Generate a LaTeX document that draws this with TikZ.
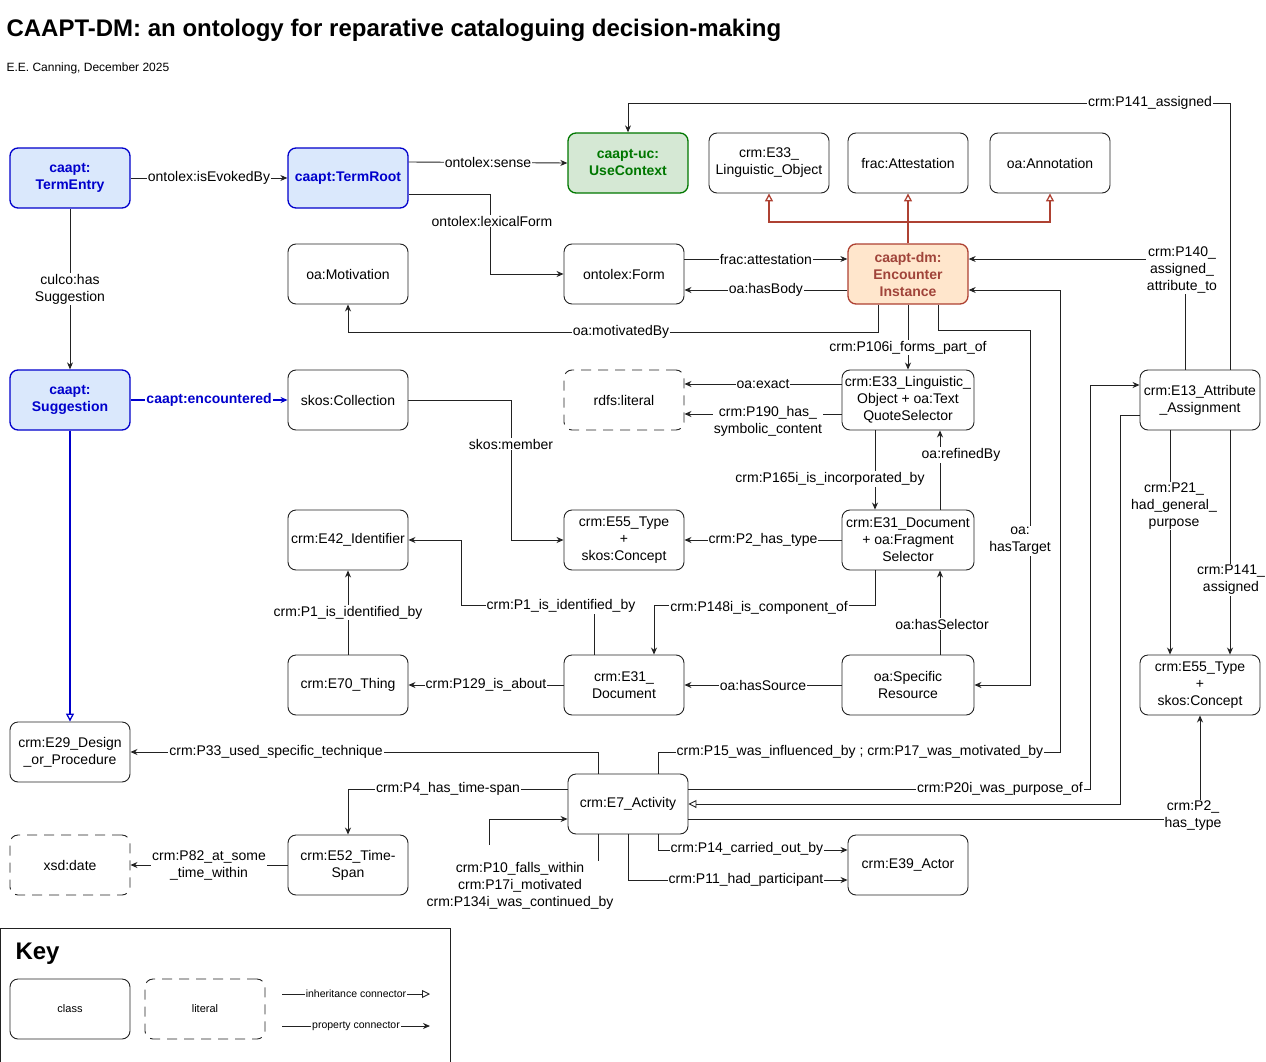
\documentclass[tikz,border=0pt]{standalone}
\usepackage{fontspec}
\setmainfont{Liberation Sans}
\usetikzlibrary{arrows.meta}
\definecolor{bfill}{HTML}{DAE8FC}\definecolor{bline}{HTML}{0000CC}
\definecolor{gfill}{HTML}{D5E8D4}\definecolor{gline}{HTML}{007700}
\definecolor{ofill}{HTML}{FFE6CC}\definecolor{oline}{HTML}{AE4132}\definecolor{otext}{HTML}{A0443A}
\definecolor{ink}{HTML}{222222}
\begin{document}
\begin{tikzpicture}[x=1pt,y=-1pt,
 every node/.style={font=\fontsize{14}{17}\selectfont},
 cls/.style={draw=ink,line width=0.9pt,rounded corners=8pt,minimum width=120pt,minimum height=60pt,align=center,inner sep=1pt},
 lit/.style={cls,dashed,dash pattern=on 10pt off 7pt},
 blu/.style={cls,fill=bfill,draw=bline,line width=1.3pt,text=bline,font=\fontsize{14}{17}\selectfont\bfseries},
 lbl/.style={fill=white,inner sep=1pt,align=center},
 con/.style={draw=ink,line width=0.9pt,-{Stealth[length=7pt,width=6pt]}},
 inh/.style={draw=ink,line width=0.9pt,-{Triangle[open,length=8pt,width=8pt]}}]
\useasboundingbox (0,0) rectangle (1266,1062);
\node[anchor=west,font=\fontsize{24}{28}\selectfont\bfseries] at (3,30) {CAAPT-DM: an ontology for reparative cataloguing decision-making};
\node[anchor=west,font=\fontsize{12}{14}\selectfont] at (3,68) {E.E. Canning, December 2025};
% nodes
\node[blu] (te) at (70,178) {caapt:\\TermEntry};
\node[blu] (tr) at (348,178) {caapt:TermRoot};
\node[cls,fill=gfill,draw=gline,line width=1.3pt,text=gline,font=\fontsize{14}{17}\selectfont\bfseries] (uc) at (628,163) {caapt-uc:\\UseContext};
\node[cls] (e33lo) at (769,163) {crm:E33\_\\Linguistic\_Object};
\node[cls] (fa) at (908,163) {frac:Attestation};
\node[cls] (oan) at (1050,163) {oa:Annotation};
\node[cls,fill=ofill,draw=oline,line width=1.3pt,text=otext,font=\fontsize{14}{17}\selectfont\bfseries] (ei) at (908,274) {caapt-dm:\\Encounter\\Instance};
\node[cls] (mot) at (348,274) {oa:Motivation};
\node[cls] (form) at (624,274) {ontolex:Form};
\node[blu] (sug) at (70,400) {caapt:\\Suggestion};
\node[cls] (coll) at (348,400) {skos:Collection};
\node[lit] (rl) at (624,400) {rdfs:literal};
\node[cls,minimum width=132pt] (tqs) at (908,400) {crm:E33\_Linguistic\_\\Object + oa:Text\\QuoteSelector};
\node[cls] (e13) at (1200,400) {crm:E13\_Attribute\\\_Assignment};
\node[cls] (e42) at (348,540) {crm:E42\_Identifier};
\node[cls] (e55) at (624,540) {crm:E55\_Type\\+\\skos:Concept};
\node[cls,minimum width=132pt] (frag) at (908,540) {crm:E31\_Document\\+ oa:Fragment\\Selector};
\node[cls] (e70) at (348,685) {crm:E70\_Thing};
\node[cls] (doc) at (624,685) {crm:E31\_\\Document};
\node[cls,minimum width=132pt] (sr) at (908,685) {oa:Specific\\Resource};
\node[cls] (e55r) at (1200,685) {crm:E55\_Type\\+\\skos:Concept};
\node[cls] (e29) at (70,752) {crm:E29\_Design\\\_or\_Procedure};
\node[cls] (e7) at (628,804) {crm:E7\_Activity};
\node[lit] (xsd) at (70,865) {xsd:date};
\node[cls] (e52) at (348,865) {crm:E52\_Time-\\Span};
\node[cls] (e39) at (908,865) {crm:E39\_Actor};
% connectors
\draw[con] (te) -- node[lbl]{ontolex:isEvokedBy} (tr);
\draw[con] ([yshift=16pt]tr.east) -- node[lbl]{ontolex:sense} (uc.west);
\draw[con] ([yshift=-16pt]tr.east) -| (490,274) -- (form.west);
\node[lbl] at (492,221) {ontolex:lexicalForm};
\draw[con] (te) -- node[lbl]{culco:has\\Suggestion} (sug);
\draw[draw=bline,line width=1.3pt,-{Stealth[length=7pt,width=6pt]}] (sug) -- node[lbl,text=bline,font=\fontsize{14}{17}\selectfont\bfseries]{caapt:encountered} (coll);
\draw[draw=bline,line width=1.3pt,-{Triangle[open,length=8pt,width=8pt]}] (sug) -- (e29);
\begin{scope}[draw=oline,line width=1.3pt]
\draw[-{Triangle[open,length=8pt,width=8pt]}] (ei.north) -- (fa.south);
\draw[-{Triangle[open,length=8pt,width=8pt]}] (908,222) -| (e33lo.south);
\draw[-{Triangle[open,length=8pt,width=8pt]}] (908,222) -| (oan.south);
\end{scope}
\draw[con] ([yshift=15pt]form.east) -- node[lbl]{frac:attestation} ([yshift=15pt]ei.west);
\draw[con] ([yshift=-16pt]ei.west) -- node[lbl]{oa:hasBody} ([yshift=-16pt]form.east);
\draw[con] ([xshift=-30pt]ei.south) |- (348,332) -- (mot.south);
\node[lbl] at (621,332) {oa:motivatedBy};
\draw[con] (ei.south) -- node[lbl,pos=0.66]{crm:P106i\_forms\_part\_of} (tqs.north);
\draw[con] ([xshift=30pt]ei.south) |- (1030,330) |- (sr.east);
\node[lbl] at (1020,541) {oa:\\hasTarget};
\draw[con] ([xshift=-15pt]e13.north) |- ([yshift=15pt]ei.east);
\node[lbl] at (1182,270) {crm:P140\_\\assigned\_\\attribute\_to};
\draw[con] ([xshift=30pt]e13.north) |- (628,103) -- (uc.north);
\node[lbl] at (1150,103) {crm:P141\_assigned};
\draw[con] ([xshift=30pt]e7.north) |- (1060,752) |- ([yshift=-16pt]ei.east);
\node[lbl] at (860,752) {crm:P15\_was\_influenced\_by ; crm:P17\_was\_motivated\_by};
\draw[con] ([yshift=16pt]tqs.west) -- node[lbl]{oa:exact} ([yshift=16pt]rl.east);
\draw[con] ([yshift=-14pt]tqs.west) -- ([yshift=-14pt]rl.east);
\node[lbl] at (768,421) {crm:P190\_has\_\\symbolic\_content};
\draw[con] ([xshift=-33pt]tqs.south) -- ([xshift=-33pt]frag.north);
\node[lbl] at (830,479) {crm:P165i\_is\_incorporated\_by};
\draw[con] ([xshift=32pt]frag.north) -- ([xshift=32pt]tqs.south);
\node[lbl] at (961,455) {oa:refinedBy};
\draw[con] (coll.east) -| (511,540) -- (e55.west);
\node[lbl] at (511,444) {skos:member};
\draw[con] (frag.west) -- node[lbl]{crm:P2\_has\_type} (e55.east);
\draw[con] ([xshift=-33pt]frag.south) |- (654,605) -- ([xshift=30pt]doc.north);
\node[lbl] at (759,608) {crm:P148i\_is\_component\_of};
\draw[con] ([xshift=-30pt]doc.north) |- (461,605) |- (e42.east);
\node[lbl] at (561,606) {crm:P1\_is\_identified\_by};
\draw[con] (e70) -- node[lbl]{crm:P1\_is\_identified\_by} (e42);
\draw[con] (doc) -- node[lbl]{crm:P129\_is\_about} (e70);
\draw[con] (sr) -- node[lbl]{oa:hasSource} (doc);
\draw[con] ([xshift=32pt]sr.north) -- ([xshift=32pt]frag.south);
\node[lbl] at (942,624) {oa:hasSelector};
\draw[con] ([xshift=-30pt]e13.south) -- ([xshift=-30pt]e55r.north);
\node[lbl] at (1174,506) {crm:P21\_\\had\_general\_\\purpose};
\draw[con] ([xshift=30pt]e13.south) -- ([xshift=30pt]e55r.north);
\node[lbl] at (1231,580) {crm:P141\_\\assigned};
\draw[con] ([yshift=-15pt]e7.east) -| (e55r.south);
\node[lbl] at (1193,816) {crm:P2\_\\has\_type};
\draw[con] ([yshift=15pt]e7.east) -| (1090,385) -- ([yshift=15pt]e13.west);
\node[lbl] at (1000,789) {crm:P20i\_was\_purpose\_of};
\draw[inh] ([yshift=-15pt]e13.west) -| (1120,804) -- (e7.east);
\draw[con] ([xshift=-30pt]e7.north) |- (e29.east);
\node[lbl] at (276,752) {crm:P33\_used\_specific\_technique};
\draw[con] ([yshift=15pt]e7.west) -| (e52.north);
\node[lbl] at (448,789) {crm:P4\_has\_time-span};
\draw[con] (e52) -- node[lbl]{crm:P82\_at\_some\\\_time\_within} (xsd);
\draw[draw=ink,line width=0.9pt] ([xshift=-30pt]e7.south) |- (588,885);
\draw[con] (489,845) |- ([yshift=-15pt]e7.west);
\node[lbl] at (520,886) {crm:P10\_falls\_within\\crm:P17i\_motivated\\crm:P134i\_was\_continued\_by};
\draw[con] ([xshift=30pt]e7.south) |- ([yshift=15pt]e39.west);
\node[lbl] at (747,849) {crm:P14\_carried\_out\_by};
\draw[con] (e7.south) |- ([yshift=-15pt]e39.west);
\node[lbl] at (746,880) {crm:P11\_had\_participant};
% key
\node[draw=ink,line width=0.9pt,minimum width=450pt,minimum height=134pt,inner sep=0pt] (key) at (225,995) {};
\node[anchor=west,font=\fontsize{24}{28}\selectfont\bfseries] (keyt) at (12,954) {Key};
\node[cls,font=\fontsize{11}{13}\selectfont] (kc) at (70,1009) {class};
\node[lit,font=\fontsize{11}{13}\selectfont] (kl) at (205,1009) {literal};
\coordinate (i1) at (282,994); \coordinate (i2) at (430,994);
\coordinate (p1) at (282,1026); \coordinate (p2) at (430,1026);
\draw[inh] (i1) -- node[lbl,font=\fontsize{10.5}{12}\selectfont]{inheritance connector} (i2);
\draw[con] (p1) -- node[lbl,font=\fontsize{10.5}{12}\selectfont]{property connector} (p2);
\end{tikzpicture}
\end{document}
